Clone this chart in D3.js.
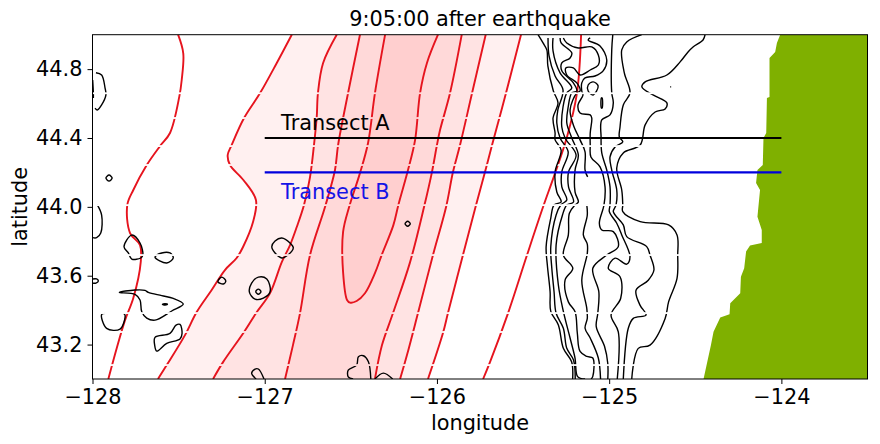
<!DOCTYPE html>
<html>
<head>
<meta charset="utf-8">
<script src="https://cdn.jsdelivr.net/npm/d3@7"></script>
<style>
    html, body { margin: 0; padding: 0; background: #fff; }
    text { font-family: "DejaVu Sans", sans-serif; }
</style>
</head>
<body>
<div id="chart"></div>
<script>
var titleText = "9:05:00 after earthquake";
var lonTicks = [-128, -127, -126, -125, -124];
var latTicks = [43.2, 43.6, 44.0, 44.4, 44.8];
var transects = [
    {name: "Transect A", lat: 44.4, labelLat: 44.445, color: "#000", textColor: "#000"},
    {name: "Transect B", lat: 44.2, labelLat: 44.045, color: "#0000dd", textColor: "#1414e6"}
];

// red contours, [lon, lat], left to right
var red1 = [[-127.503,45],[-127.473,44.892],[-127.482,44.737],[-127.496,44.64],[-127.55,44.429],[-127.608,44.353],[-127.685,44.243],[-127.763,44.098],[-127.798,44.011],[-127.782,43.848],[-127.724,43.778],[-127.72,43.679],[-127.763,43.47],[-127.811,43.342],[-127.859,43.18],[-127.908,43]];
var red2 = [[-126.843,45],[-126.93,44.836],[-127.027,44.661],[-127.12,44.516],[-127.192,44.359],[-127.215,44.301],[-127.202,44.243],[-127.124,44.156],[-127.051,44.04],[-127.068,43.912],[-127.126,43.767],[-127.163,43.703],[-127.231,43.633],[-127.308,43.517],[-127.395,43.389],[-127.463,43.255],[-127.569,43.081],[-127.62,43]];
var red3 = [[-126.582,45],[-126.661,44.836],[-126.691,44.661],[-126.698,44.522],[-126.714,44.359],[-126.737,44.173],[-126.772,44.011],[-126.814,43.883],[-126.853,43.778],[-126.901,43.679],[-126.969,43.499],[-127.046,43.389],[-127.12,43.273],[-127.242,43.098],[-127.3,43]];
var red4 = [[-126.447,45],[-126.516,44.661],[-126.574,44.359],[-126.592,44.214],[-126.65,43.999],[-126.737,43.72],[-126.795,43.383],[-126.836,43.197],[-126.882,43]];
var redLobe = [[-126.301,45],[-126.36,44.661],[-126.4,44.371],[-126.447,44.196],[-126.51,43.999],[-126.545,43.854],[-126.545,43.621],[-126.522,43.459],[-126.505,43.444],[-126.466,43.453],[-126.418,43.498],[-126.36,43.615],[-126.321,43.72],[-126.253,43.894],[-126.224,44.011],[-126.168,44.214],[-126.127,44.388],[-126.098,44.661],[-126.058,44.836],[-125.994,45]];
var red5 = [[-125.856,45],[-125.924,44.661],[-125.982,44.446],[-126,44.359],[-126.029,44.202],[-126.075,43.999],[-126.156,43.679],[-126.255,43.383],[-126.319,43.197],[-126.36,43]];
var red6 = [[-125.717,45],[-125.796,44.661],[-125.866,44.359],[-125.907,44.202],[-125.947,43.999],[-126.023,43.72],[-126.11,43.383],[-126.174,43.139],[-126.214,43]];
var red7 = [[-125.512,45],[-125.599,44.661],[-125.68,44.359],[-125.721,44.202],[-125.776,43.999],[-125.849,43.72],[-125.936,43.383],[-125.965,43.267],[-126.052,43]];
var red8 = [[-125.163,45],[-125.187,44.661],[-125.245,44.406],[-125.314,44.196],[-125.384,43.999],[-125.477,43.72],[-125.587,43.383],[-125.692,43.098],[-125.732,43]];

// pink bands, outer to inner
var bands = [
    {left: red2, right: red7, color: "#fff0f0"},
    {left: red3, right: red6, color: "#ffe3e3"},
    {left: red4, right: red5, color: "#ffd9d9"},
    {left: redLobe, right: [], color: "#ffcfcf"}
];

// black contours, open ones
var blackOpen = [
    [[-127.999,44.737],[-127.995,44.661],[-127.995,44.632]],
    [[-127.98,44.779],[-127.947,44.766],[-127.927,44.69],[-127.922,44.65],[-127.947,44.592],[-127.972,44.563],[-127.985,44.574]],
    [[-127.972,44.011],[-127.947,43.952],[-127.952,43.848],[-127.976,43.821],[-127.999,43.821]],
    [[-127.999,43.581],[-127.976,43.581],[-127.966,43.569],[-127.98,43.557],[-127.999,43.557]],
    [[-127.927,43.381],[-127.947,43.375],[-127.918,43.294],[-127.84,43.29],[-127.811,43.371],[-127.821,43.381]],
    [[-127.05,43],[-127.076,43.033],[-127.056,43.058],[-127.037,43.058],[-127.004,43]],
    [[-126.487,43],[-126.515,43.013],[-126.515,43.052],[-126.466,43.081],[-126.456,43.129],[-126.427,43.135],[-126.398,43.1],[-126.384,43]],
    [[-126.36,43],[-126.311,43.034],[-126.257,43]],
    [[-124.646,44.697],[-124.64,44.697]],
    [[-125.413,45],[-125.384,44.952],[-125.362,44.912],[-125.356,44.819],[-125.324,44.673],[-125.297,44.604],[-125.326,44.516],[-125.314,44.429],[-125.314,44.389],[-125.279,44.33],[-125.314,44.203],[-125.304,44.086],[-125.279,44.028],[-125.32,44.011],[-125.339,43.935],[-125.366,43.769],[-125.359,43.662],[-125.343,43.507],[-125.339,43.393],[-125.295,43.314],[-125.266,43.178],[-125.218,43.1],[-125.212,43]],
    [[-125.355,44.981],[-125.349,44.877],[-125.314,44.76],[-125.268,44.679],[-125.298,44.563],[-125.304,44.487],[-125.285,44.4],[-125.238,44.319],[-125.275,44.203],[-125.275,44.116],[-125.246,44.04],[-125.281,44.011],[-125.308,43.953],[-125.339,43.769],[-125.333,43.643],[-125.32,43.507],[-125.308,43.382],[-125.266,43.295],[-125.246,43.178],[-125.207,43.11],[-125.197,43]],
    [[-125.326,44.981],[-125.326,44.906],[-125.285,44.778],[-125.217,44.691],[-125.246,44.662],[-125.268,44.58],[-125.275,44.464],[-125.256,44.4],[-125.192,44.301],[-125.236,44.203],[-125.236,44.116],[-125.207,44.028],[-125.246,44.011],[-125.271,43.953],[-125.308,43.779],[-125.295,43.546],[-125.266,43.393],[-125.227,43.238],[-125.198,43.12],[-125.183,43.014],[-125.14,43]],
    [[-125.285,44.981],[-125.279,44.952],[-125.217,44.894],[-125.227,44.865],[-125.275,44.836],[-125.275,44.79],[-125.208,44.72],[-125.188,44.673],[-125.217,44.662],[-125.238,44.58],[-125.246,44.487],[-125.217,44.4],[-125.179,44.301],[-125.198,44.214],[-125.198,44.086],[-125.179,44.028],[-125.198,44.011],[-125.231,43.963],[-125.237,43.837],[-125.266,43.72],[-125.211,43.643],[-125.256,43.574],[-125.237,43.448],[-125.198,43.39],[-125.185,43.267],[-125.169,43.16],[-125.13,43.131],[-125.095,43.122],[-125.095,43.015],[-125.105,43]],
    [[-125.266,44.981],[-125.246,44.952],[-125.179,44.923],[-125.101,44.929],[-125.063,44.882],[-125.063,44.824],[-125.11,44.795],[-125.169,44.766],[-125.208,44.807],[-125.252,44.807],[-125.246,44.766],[-125.188,44.72],[-125.169,44.673],[-125.188,44.662],[-125.227,44.563],[-125.208,44.476],[-125.169,44.389],[-125.14,44.319],[-125.14,44.214],[-125.125,44.174]],
    [[-125.13,44.011],[-125.127,43.953],[-125.15,43.837],[-125.127,43.783],[-125.127,43.73],[-125.159,43.574],[-125.13,43.41],[-125.127,43.352],[-125.14,43.295],[-125.11,43.238],[-125.063,43.122],[-125.05,43]],
    [[-125.11,44.981],[-125.122,44.969],[-125.053,44.935],[-125.014,44.853],[-125.035,44.79],[-125.082,44.76],[-125.14,44.749],[-125.159,44.72],[-125.159,44.673],[-125.152,44.65],[-125.181,44.592],[-125.169,44.545],[-125.11,44.534],[-125.101,44.516],[-125.11,44.429],[-125.11,44.359],[-125.106,44.29],[-125.053,44.232],[-125.024,44.116],[-125.03,44.011],[-125.057,43.905],[-125.043,43.866],[-124.976,43.856],[-124.947,43.769],[-125.014,43.72],[-125.095,43.643],[-125.06,43.507],[-125.066,43.382],[-125.075,43.304],[-125.027,43.19],[-125.008,43.09],[-125.008,43]],
    [[-124.979,45],[-124.985,44.912],[-124.985,44.662],[-124.976,44.604],[-124.995,44.534],[-125.043,44.505],[-125.047,44.406],[-125.043,44.313],[-125.014,44.214],[-124.995,44.116],[-124.995,44.011],[-124.999,43.972],[-124.956,43.905],[-124.927,43.837],[-124.879,43.711],[-124.898,43.667],[-124.966,43.702],[-125.005,43.643],[-124.937,43.594],[-124.933,43.469],[-124.989,43.372],[-124.947,43.274],[-124.953,43]],
    [[-124.811,45],[-124.898,44.958],[-124.927,44.912],[-124.912,44.778],[-124.879,44.662],[-124.918,44.592],[-124.937,44.464],[-124.941,44.406],[-124.921,44.377],[-124.966,44.348],[-124.995,44.29],[-124.985,44.214],[-124.956,44.098],[-124.96,44.011],[-124.976,43.972],[-124.918,43.895],[-124.898,43.827],[-124.782,43.769],[-124.763,43.72],[-124.74,43.633],[-124.773,43.574],[-124.844,43.516],[-124.821,43.429],[-124.786,43.372],[-124.86,43.352],[-124.889,43.295],[-124.918,43]],
    [[-124.443,45],[-124.455,44.969],[-124.513,44.929],[-124.542,44.9],[-124.588,44.842],[-124.665,44.766],[-124.791,44.726],[-124.81,44.697],[-124.745,44.65],[-124.665,44.604],[-124.675,44.569],[-124.733,44.551],[-124.791,44.476],[-124.82,44.359],[-124.918,44.313],[-124.956,44.226],[-124.927,44.098],[-124.921,44.011],[-124.921,43.972],[-124.82,43.914],[-124.655,43.895],[-124.606,43.837],[-124.602,43.72],[-124.606,43.585],[-124.655,43.448],[-124.675,43.352],[-124.763,43.197],[-124.831,43.178],[-124.869,43]]
];

// black contours, closed ones
var blackClosed = [
    [[-127.904,44.185],[-127.886,44.167],[-127.904,44.15],[-127.922,44.167]],
    [[-127.772,43.836],[-127.724,43.79],[-127.708,43.72],[-127.72,43.703],[-127.772,43.697],[-127.792,43.732],[-127.817,43.768]],
    [[-127.637,43.708],[-127.598,43.732],[-127.55,43.732],[-127.531,43.703],[-127.569,43.674]],
    [[-127.25,43.592],[-127.226,43.569],[-127.24,43.552],[-127.272,43.565]],
    [[-126.901,43.819],[-126.853,43.79],[-126.834,43.762],[-126.865,43.72],[-126.901,43.703],[-126.94,43.732],[-126.959,43.768],[-126.94,43.801]],
    [[-127.037,43.592],[-126.988,43.581],[-126.969,43.507],[-127.008,43.47],[-127.056,43.464],[-127.089,43.505],[-127.076,43.557]],
    [[-127.037,43.522],[-127.022,43.507],[-127.037,43.492],[-127.052,43.507]],
    [[-127.844,43.503],[-127.753,43.517],[-127.695,43.515],[-127.676,43.503],[-127.598,43.484],[-127.531,43.468],[-127.473,43.435],[-127.54,43.395],[-127.637,43.342],[-127.685,43.354],[-127.714,43.391],[-127.724,43.459],[-127.753,43.492]],
    [[-127.594,43.434],[-127.579,43.438],[-127.565,43.434],[-127.579,43.43]],
    [[-127.637,43.242],[-127.55,43.265],[-127.515,43.313],[-127.492,43.317],[-127.48,43.265],[-127.492,43.232],[-127.569,43.207],[-127.627,43.162],[-127.639,43.197]],
    [[-126.17,43.916],[-126.155,43.902],[-126.17,43.887],[-126.185,43.902]],
    [[-125.122,44.708],[-125.093,44.726],[-125.064,44.702],[-125.093,44.65],[-125.122,44.673]],
    [[-125.045,44.633],[-125.041,44.633],[-125.041,44.574],[-125.045,44.574]]
];

var landEdge = [[-124.007,45],[-124.026,44.952],[-124.036,44.9],[-124.069,44.865],[-124.069,44.638],[-124.084,44.632],[-124.088,44.429],[-124.104,44.4],[-124.108,44.243],[-124.139,44.214],[-124.147,44.139],[-124.124,44.098],[-124.139,43.942],[-124.114,43.866],[-124.114,43.79],[-124.182,43.775],[-124.205,43.74],[-124.216,43.643],[-124.235,43.594],[-124.239,43.498],[-124.297,43.44],[-124.301,43.376],[-124.355,43.357],[-124.394,43.275],[-124.409,43.197],[-124.452,43],[-123.5,43],[-123.5,45]];

// latitudes where the contours break at a tile edge
var blackGapLats = [44.66, 44.353, 44.01, 43.72, 43.383, 43.081];
var redGapLats = [44.66, 44.516, 44.353, 44.243, 44.01, 43.72, 43.383, 43.273, 43.081];

var width = 880,
    height = 444,
    fontSize = 20.83;

var x = d3.scaleLinear().domain([-128, -123.5]).range([92.5, 867.5]);
var y = d3.scaleLinear().domain([43, 45]).range([379, 34.7]);

var svg = d3.select("#chart").append("svg")
    .attr("width", width)
    .attr("height", height)
    .style("display", "block");

var defs = svg.append("defs");
defs.append("clipPath").attr("id", "plotClip").append("rect")
    .attr("x", x(-128)).attr("y", y(45))
    .attr("width", x(-123.5) - x(-128)).attr("height", y(43) - y(45));

function addGapMask(id, lats) {
    var mask = defs.append("mask").attr("id", id).attr("maskUnits", "userSpaceOnUse")
        .attr("x", 0).attr("y", 0).attr("width", width).attr("height", height);
    mask.append("rect").attr("width", width).attr("height", height).attr("fill", "#fff");
    mask.selectAll(".gap").data(lats).enter().append("rect")
        .attr("class", "gap")
        .attr("x", 0).attr("width", width)
        .attr("y", function(d) { return y(d) - 0.9; })
        .attr("height", 1.8)
        .attr("fill", "#000");
}
addGapMask("blackGaps", blackGapLats);
addGapMask("redGaps", redGapLats);

var polyLine = d3.line().x(function(d) { return x(d[0]); }).y(function(d) { return y(d[1]); });
var smoothOpen = d3.line().x(function(d) { return x(d[0]); }).y(function(d) { return y(d[1]); }).curve(d3.curveCatmullRom.alpha(0.5));
var smoothClosed = d3.line().x(function(d) { return x(d[0]); }).y(function(d) { return y(d[1]); }).curve(d3.curveCatmullRomClosed.alpha(0.5));

var plot = svg.append("g").attr("clip-path", "url(#plotClip)");

// pink bands
plot.selectAll(".band").data(bands).enter().append("path")
    .attr("class", "band")
    .attr("d", function(d) { return polyLine(d.left.concat(d.right.slice().reverse())) + "Z"; })
    .attr("fill", function(d) { return d.color; });

// land
plot.append("path").attr("d", polyLine(landEdge) + "Z").attr("fill", "#7fb000");

var redLayer = plot.append("g").attr("mask", "url(#redGaps)");
redLayer.selectAll("path").data([red1, red2, red3, red4, redLobe, red5, red6, red7, red8]).enter().append("path")
    .attr("d", smoothOpen)
    .attr("fill", "none")
    .attr("stroke", "#e6141e")
    .attr("stroke-width", 1.9);

var blackLayer = plot.append("g").attr("mask", "url(#blackGaps)");
blackLayer.selectAll(".open").data(blackOpen).enter().append("path")
    .attr("class", "open")
    .attr("d", smoothOpen)
    .attr("fill", "none")
    .attr("stroke", "#000")
    .attr("stroke-width", 1.4);
blackLayer.selectAll(".closed").data(blackClosed).enter().append("path")
    .attr("class", "closed")
    .attr("d", smoothClosed)
    .attr("fill", "none")
    .attr("stroke", "#000")
    .attr("stroke-width", 1.4);

// transects
svg.selectAll(".transect").data(transects).enter().append("line")
    .attr("class", "transect")
    .attr("x1", x(-127)).attr("x2", x(-124))
    .attr("y1", function(d) { return y(d.lat); })
    .attr("y2", function(d) { return y(d.lat); })
    .attr("stroke", function(d) { return d.color; })
    .attr("stroke-width", 2.1);
svg.selectAll(".transectLabel").data(transects).enter().append("text")
    .attr("class", "transectLabel")
    .attr("x", x(-126.905))
    .attr("y", function(d) { return y(d.labelLat); })
    .attr("fill", function(d) { return d.textColor; })
    .attr("font-size", fontSize)
    .text(function(d) { return d.name; });

// axes
var xAxis = d3.axisBottom(x).tickValues(lonTicks).tickSize(5).tickPadding(5).tickFormat(d3.format("d"));
var yAxis = d3.axisLeft(y).tickValues(latTicks).tickSize(5).tickPadding(5).tickFormat(d3.format(".1f"));

var gx = svg.append("g").attr("transform", "translate(0," + y(43) + ")").call(xAxis);
var gy = svg.append("g").attr("transform", "translate(" + x(-128) + ",0)").call(yAxis);
[gx, gy].forEach(function(g) {
    g.select(".domain").remove();
    g.selectAll("line").attr("stroke", "#000").attr("stroke-width", 1);
    g.selectAll("text").attr("font-size", fontSize).attr("font-family", "DejaVu Sans").attr("fill", "#000");
});

svg.append("rect")
    .attr("x", x(-128)).attr("y", y(45))
    .attr("width", x(-123.5) - x(-128)).attr("height", y(43) - y(45))
    .attr("fill", "none").attr("stroke", "#000").attr("stroke-width", 1);

svg.append("text")
    .attr("x", (x(-128) + x(-123.5)) / 2).attr("y", 26)
    .attr("text-anchor", "middle").attr("font-size", fontSize)
    .text(titleText);
svg.append("text")
    .attr("x", (x(-128) + x(-123.5)) / 2).attr("y", 430)
    .attr("text-anchor", "middle").attr("font-size", fontSize)
    .text("longitude");
svg.append("text")
    .attr("transform", "translate(27," + ((y(43) + y(45)) / 2) + ") rotate(-90)")
    .attr("text-anchor", "middle").attr("font-size", fontSize)
    .text("latitude");
</script>
</body>
</html>
